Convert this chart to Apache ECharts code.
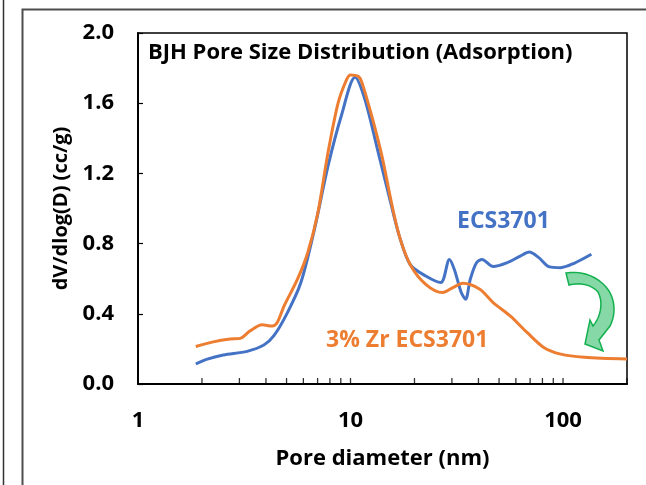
<!DOCTYPE html>
<html>
<head>
<meta charset="utf-8">
<script src="https://cdn.jsdelivr.net/npm/echarts@6/dist/echarts.min.js"></script>
<style>
  html, body { margin: 0; padding: 0; background: #fff; }
  #chart { width: 646px; height: 485px; }
</style>
</head>
<body>
<div id="chart"></div>
<script>
var chart = echarts.init(document.getElementById("chart"));

// pore diameter (nm) / dV/dlog(D) (cc/g)
var blueD = [1.87, 2.1, 2.52, 3.26, 3.91, 4.36, 5.05, 5.84, 6.76, 7.83, 9.06, 10.5, 11.7, 13.5, 15.4, 17.0, 19.1,
             22.6, 26.6, 29.2, 30.8, 33.2, 34.8, 36.6, 39.1, 41.6, 46.9, 54.3, 62.9, 69.4, 76.9, 85.8, 97.5, 112.8, 136];
var blueV = [0.114, 0.14, 0.165, 0.186, 0.222, 0.275, 0.407, 0.578, 0.88, 1.24, 1.53, 1.748, 1.62, 1.32, 1.04, 0.84, 0.68,
             0.615, 0.578, 0.71, 0.653, 0.521, 0.483, 0.597, 0.69, 0.71, 0.669, 0.69, 0.729, 0.752, 0.72, 0.669, 0.663, 0.688, 0.739];

var orangeD = [1.87, 2.26, 2.71, 3.03, 3.37, 3.84, 4.28, 4.52, 4.87, 5.63, 6.29, 7.02, 7.83, 8.74, 9.57, 10.0, 10.9, 11.3,
               12.6, 14.05, 15.6, 17.0, 19.1, 22.6, 27.1, 30.3, 33.8, 40.6, 46.9, 56.4, 67.7, 81.2, 97.5, 126, 200];
var orangeV = [0.214, 0.24, 0.256, 0.26, 0.303, 0.337, 0.33, 0.35, 0.445, 0.597, 0.748, 0.976, 1.316, 1.60, 1.733, 1.761, 1.752, 1.72,
               1.525, 1.30, 1.03, 0.84, 0.68, 0.568, 0.521, 0.549, 0.574, 0.54, 0.464, 0.388, 0.294, 0.208, 0.17, 0.152, 0.142];

var xTickValues = [2, 3, 4, 5, 6, 7, 8, 9, 10, 20, 30, 40, 50, 60, 70, 80, 90, 100, 200];
var xLabelValues = [1, 10, 100];

var font = "Open Sans";
var boldText = { fontFamily: font, fontWeight: "bold", fontSize: 22, color: "#000" };

function pairs(xs, ys) {
    return xs.map(function (x, i) { return [x, ys[i]]; });
}

// outline of the green curved arrow: straight points and cubic segments
function arrowPoints() {
    var segs = [
        ["M", 566, 273],
        ["C", 582, 270, 600, 277, 609, 291],
        ["C", 615, 301, 616, 314, 610, 326],
        ["L", 599, 340], ["L", 603, 351], ["L", 585, 344], ["L", 590, 320], ["L", 593, 326],
        ["C", 600, 318, 604, 303, 598, 292],
        ["C", 592, 285, 581, 282, 569, 285]
    ];
    var pts = [], cx = 0, cy = 0;
    segs.forEach(function (s) {
        if (s[0] === "C") {
            for (var t = 0.1; t <= 1.0001; t += 0.1) {
                var u = 1 - t;
                pts.push([
                    u * u * u * cx + 3 * u * u * t * s[1] + 3 * u * t * t * s[3] + t * t * t * s[5],
                    u * u * u * cy + 3 * u * u * t * s[2] + 3 * u * t * t * s[4] + t * t * t * s[6]
                ]);
            }
            cx = s[5]; cy = s[6];
        } else {
            pts.push([s[1], s[2]]);
            cx = s[1]; cy = s[2];
        }
    });
    return pts;
}

var option = {
    backgroundColor: "#fff",
    animation: false,
    grid: {
        left: 138,
        right: 19,
        top: 33,
        bottom: 101,
        show: true,
        borderColor: "#000",
        borderWidth: 1.5
    },
    xAxis: {
        type: "log",
        logBase: 10,
        min: 1,
        max: 200,
        name: "Pore diameter (nm)",
        nameLocation: "middle",
        nameGap: 64,
        nameTextStyle: boldText,
        axisLine: { lineStyle: { color: "#000", width: 2 } },
        axisTick: { show: false },
        splitLine: { show: false },
        axisLabel: {
            margin: 26,
            showMaxLabel: false,
            fontFamily: font, fontWeight: "bold", fontSize: 22, color: "#000",
            formatter: function (v) { return xLabelValues.indexOf(Math.round(v)) >= 0 ? String(Math.round(v)) : ""; }
        }
    },
    yAxis: {
        type: "value",
        min: 0,
        max: 2,
        interval: 0.4,
        name: "dV/dlog(D) (cc/g)",
        nameLocation: "middle",
        nameGap: 56,
        nameTextStyle: { fontFamily: font, fontWeight: "bold", fontSize: 20, color: "#000" },
        axisLine: { show: true, lineStyle: { color: "#000", width: 2 } },
        axisTick: { show: true, inside: true, length: 5, lineStyle: { color: "#000", width: 1.2 } },
        splitLine: { show: false },
        axisLabel: {
            margin: 24,
            fontFamily: font, fontWeight: "bold", fontSize: 22, color: "#000",
            formatter: function (v) { return v.toFixed(1); }
        }
    },
    series: [{
        // log-scale minor ticks along the bottom axis
        type: "scatter",
        data: xTickValues.map(function (v) { return [v, 0]; }),
        symbol: "rect",
        symbolSize: [1.3, 6],
        symbolOffset: [0, -3],
        itemStyle: { color: "#000" },
        clip: false,
        silent: true,
        z: 4
    }, {
        name: "ECS3701",
        type: "line",
        data: pairs(blueD, blueV),
        smooth: 0.3,
        symbol: "none",
        lineStyle: { color: "#4472C4", width: 3 },
        z: 2
    }, {
        name: "3% Zr ECS3701",
        type: "line",
        data: pairs(orangeD, orangeV),
        smooth: 0.3,
        symbol: "none",
        lineStyle: { color: "#ED7D31", width: 3 },
        z: 3
    }],
    graphic: [
        { type: "line", shape: { x1: 3.5, y1: 0, x2: 3.5, y2: 485 }, style: { stroke: "#333", lineWidth: 1.5 } },
        { type: "rect", shape: { x: 22.5, y: 9.5, width: 700, height: 600 }, style: { fill: "none", stroke: "#4d4d4d", lineWidth: 2 } },
        {
            type: "text", x: 148, y: 53,
            style: { text: "BJH Pore Size Distribution (Adsorption)", fill: "#000", font: "bold 22px 'Open Sans'", verticalAlign: "middle" }
        },
        {
            type: "text", x: 457, y: 221,
            style: { text: "ECS3701", fill: "#4472C4", font: "bold 23px 'Open Sans'", verticalAlign: "middle" }
        },
        {
            type: "text", x: 326, y: 340,
            style: { text: "3% Zr ECS3701", fill: "#ED7D31", font: "bold 23px 'Open Sans'", verticalAlign: "middle" }
        },
        {
            type: "polygon",
            shape: { points: arrowPoints() },
            style: { fill: "#86D9A6", stroke: "#14B050", lineWidth: 1.5 },
            z: 10
        }
    ]
};

chart.setOption(option);
</script>
</body>
</html>
